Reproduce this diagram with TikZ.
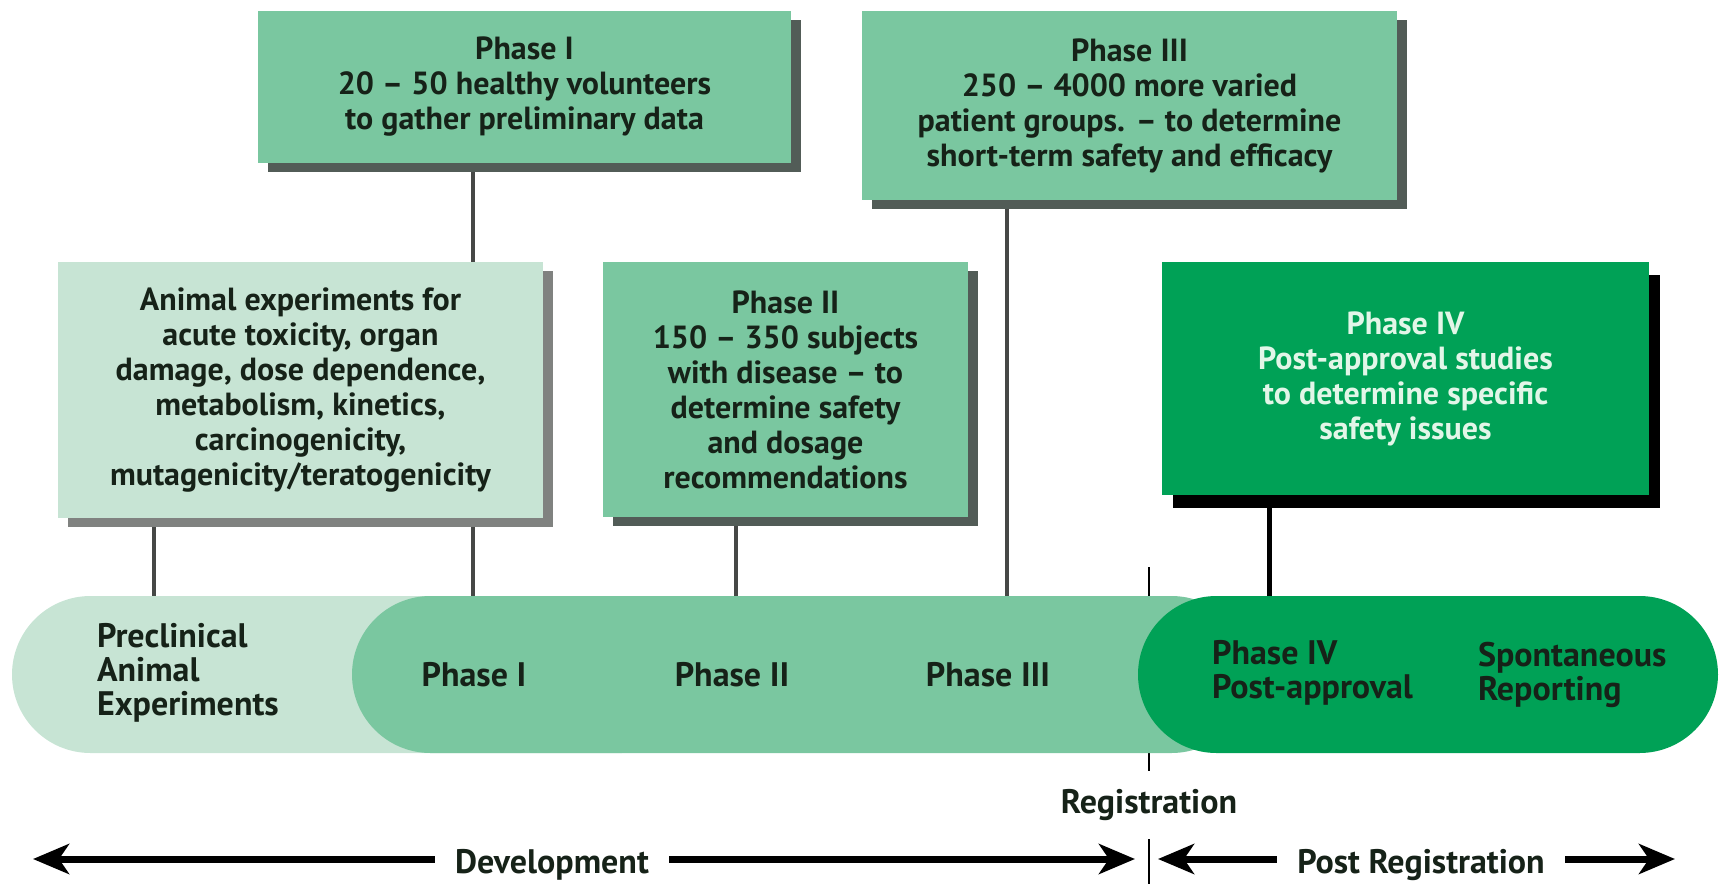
\documentclass[tikz,border=0pt]{standalone}
\usepackage{fontspec}
\setmainfont{PT Sans}
\usetikzlibrary{positioning,arrows.meta,calc,shapes.misc,shadows,backgrounds}
\definecolor{palegreen}{RGB}{199,228,212}
\definecolor{midgreen}{RGB}{122,199,160}
\definecolor{deepgreen}{RGB}{0,161,86}
\definecolor{boxshadow}{RGB}{82,92,87}
\definecolor{lightshadow}{RGB}{128,130,128}
\definecolor{stemgray}{RGB}{70,72,70}
\definecolor{inktext}{RGB}{22,34,24}
\definecolor{paletext}{RGB}{226,246,232}

\begin{document}
\begin{tikzpicture}[x=0.5pt, y=-0.5pt,
  every node/.style={font=\bfseries\fontsize{16}{17.5}\selectfont, align=center, text=inktext},
  infobox/.style={rectangle, inner sep=0pt,
    general shadow={fill=#1, shadow xshift=5pt, shadow yshift=-4.5pt}},
  infobox/.default=boxshadow,
  barpart/.style={rounded rectangle, minimum height=78.5pt, inner sep=0pt},
  barlabel/.style={font=\bfseries\fontsize{17}{17}\selectfont},
  stem/.style={draw=stemgray, line width=2pt},
  bigarrow/.style={-{Stealth[length=18pt,width=15pt,inset=5pt]}, line width=3.5pt}]
  \useasboundingbox (0,0) rectangle (1721,884);

  % time bar
  \node[barpart, fill=palegreen, minimum width=344pt] (pre)  at (356,674.5) {};
  \node[barpart, fill=midgreen,  minimum width=449pt] (dev)  at (801,674.5) {};
  \node[barpart, fill=deepgreen, minimum width=290pt] (post) at (1428,674.5) {};

  \node[barlabel, align=left, anchor=west] (lblpre) at (90,673) {Preclinical\\Animal\\Experiments};
  \node[barlabel] (lblI)   at (474,675) {Phase I};
  \node[barlabel] (lblII)  at (732,675) {Phase II};
  \node[barlabel] (lblIII) at (988,675) {Phase III};
  \node[barlabel, align=left, anchor=west] (lblIV) at (1205,673) {Phase IV\\Post-approval};
  \node[barlabel, align=left, anchor=west] (lblspont) at (1471,675) {Spontaneous\\Reporting};

  % boxes
  \node[infobox=lightshadow, fill=palegreen, minimum width=242.5pt, minimum height=128pt] (animal)
      at (300.5,390) {Animal experiments for\\acute toxicity, organ\\damage, dose dependence,\\metabolism, kinetics,\\carcinogenicity,\\mutagenicity/teratogenicity};
  \node[infobox, fill=midgreen, minimum width=266.5pt, minimum height=76pt] (ph1)
      at (524.5,87) {Phase I\\20 -- 50 healthy volunteers\\to gather preliminary data};
  \node[infobox, fill=midgreen, minimum width=182.5pt, minimum height=127.5pt] (ph2)
      at (785.5,389.5) {Phase II\\150 -- 350 subjects\\with disease -- to\\determine safety\\and dosage\\recommendations};
  \node[infobox, fill=midgreen, minimum width=267.5pt, minimum height=94.5pt] (ph3)
      at (1129.5,105.5) {Phase III\\250 -- 4000 more varied\\patient groups. -- to determine\\short-term safety and efficacy};
  \node[rectangle, inner sep=0pt, fill=deepgreen, text=paletext,
        general shadow={fill=black, shadow xshift=5.5pt, shadow yshift=-6.5pt},
        minimum width=243.5pt, minimum height=116.5pt] (ph4)
      at (1405.5,378.5) {Phase IV\\Post-approval studies\\to determine specific\\safety issues};

  % registration mark and ranges
  \node[barlabel, fill=white, inner ysep=9pt] (reg) at (1149,805) {Registration};
  \coordinate (regtop) at (1149,567);
  \coordinate (regbot) at (1149,884);

  \coordinate (devL)  at (33,859);
  \coordinate (devR)  at (1135,859);
  \coordinate (postL) at (1158,859);
  \coordinate (postR) at (1675,859);
  \node[barlabel, inner xsep=10pt, anchor=base] (devlbl)  at (552,873)  {Development};
  \node[barlabel, inner xsep=10pt, anchor=base] (postlbl) at (1421,873) {Post Registration};
  \draw[bigarrow] (devlbl.west |- devL) -- (devL);
  \draw[bigarrow] (devlbl.east |- devR) -- (devR);
  \draw[bigarrow] (postlbl.west |- postL) -- (postL);
  \draw[bigarrow] (postlbl.east |- postR) -- (postR);

  \begin{scope}[on background layer]
    \coordinate (sA) at ($(animal.south west)!0.198!(animal.south east)$);
    \coordinate (s1) at ($(ph1.south west)!0.403!(ph1.south east)$);
    \coordinate (s2) at ($(ph2.south west)!0.364!(ph2.south east)$);
    \coordinate (s3) at ($(ph3.south west)!0.272!(ph3.south east)$);
    \coordinate (s4) at ($(ph4.south west)!0.222!(ph4.south east)$);
    \draw[stem] (sA) -- (sA |- pre.north);
    \draw[stem] (s1) -- (s1 |- dev.north);
    \draw[stem] (s2) -- (s2 |- dev.north);
    \draw[stem] (s3) -- (s3 |- dev.north);
    \draw[stem, draw=black, line width=2.5pt] (s4) -- (s4 |- post.north);
    \draw[line width=1pt] (regtop) -- (regbot);
  \end{scope}
\end{tikzpicture}
\end{document}
